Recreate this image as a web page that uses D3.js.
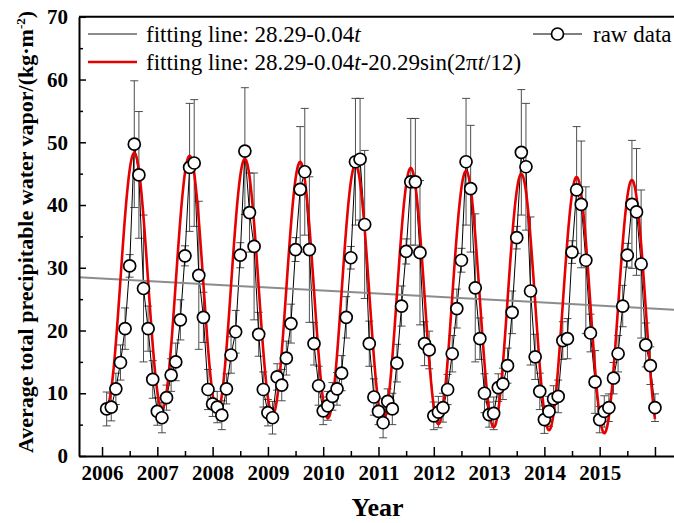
<!DOCTYPE html>
<html>
<head>
<meta charset="utf-8">
<script src="https://cdn.jsdelivr.net/npm/d3@7"></script>
<style>
    body { margin: 0; background: #fff; }
    svg { display: block; }
</style>
</head>
<body>
<svg id="mainSvg" width="674" height="523"></svg>
<script>
// tick labels for the year axis
const years = ["2006", "2007", "2008", "2009", "2010", "2011", "2012", "2013", "2014", "2015"];

// monthly average precipitable water vapor, Jan 2006 .. Dec 2015
const pwv = [
    7.5, 7.8, 10.7, 14.9, 20.3, 30.3, 49.7, 44.8, 26.7, 20.3, 12.2, 7.1,
    6.1, 9.3, 12.9, 15.0, 21.7, 31.9, 46.0, 46.7, 28.8, 22.1, 10.6, 8.3,
    7.8, 6.5, 10.7, 16.1, 19.8, 32.0, 48.6, 38.8, 33.4, 19.4, 10.6, 6.9,
    6.1, 12.6, 11.3, 15.6, 21.1, 32.9, 42.5, 45.3, 32.9, 17.9, 11.2, 7.2,
    8.0, 9.5, 10.7, 13.2, 22.1, 31.6, 46.9, 47.3, 36.9, 17.9, 9.4, 7.1,
    5.3, 8.7, 7.5, 14.8, 23.9, 32.6, 43.7, 43.7, 32.4, 17.9, 16.9, 6.4,
    7.0, 7.7, 10.6, 16.3, 23.5, 31.2, 46.9, 42.6, 26.8, 18.7, 10.0, 6.6,
    6.8, 10.9, 11.5, 14.4, 22.9, 34.8, 48.4, 46.1, 26.3, 15.8, 10.3, 5.8,
    7.1, 9.1, 9.5, 18.4, 18.7, 32.5, 42.4, 40.1, 31.2, 19.6, 11.8, 5.8,
    7.1, 7.7, 12.4, 16.3, 23.9, 32.0, 40.1, 38.9, 30.6, 17.7, 14.4, 7.7
];

// standard deviation (error bars)
const pwvSd = [
    2.7, 2.2, 2.5, 2.8, 3.3, 1.8, 10.1, 10.1, 11.7, 3.6, 3.0, 2.2,
    2.4, 2.0, 2.6, 3.0, 3.2, 1.6, 10.2, 10.1, 11.8, 4.0, 3.2, 2.0,
    2.5, 2.3, 2.4, 2.9, 3.4, 2.0, 10.1, 6.3, 11.7, 3.5, 2.8, 2.1,
    2.6, 2.1, 2.5, 2.7, 3.1, 1.9, 10.0, 10.1, 11.6, 3.4, 3.1, 2.2,
    2.3, 2.2, 2.6, 2.8, 3.3, 1.8, 10.1, 9.7, 11.8, 3.6, 2.9, 2.1,
    2.4, 2.0, 2.5, 3.0, 3.2, 2.0, 10.1, 10.1, 11.5, 3.5, 3.0, 2.2,
    2.5, 2.3, 2.4, 2.9, 3.1, 1.9, 10.1, 10.1, 11.8, 3.3, 3.1, 2.0,
    2.6, 2.2, 2.5, 2.8, 3.4, 1.8, 10.0, 10.1, 11.8, 3.6, 2.9, 2.2,
    2.4, 2.1, 2.6, 3.0, 3.2, 1.8, 10.1, 10.1, 11.7, 3.0, 5.0, 2.1,
    2.5, 2.2, 2.5, 2.9, 3.3, 1.9, 10.2, 10.1, 11.8, 3.5, 3.0, 2.2
];

// fitted models: a + b*t  and  a + b*t - amp*sin(2*pi*(t+shift)/period)
const trendCoef = [28.29, -0.04];
const seasonCoef = [20.29, 12, 2];

let svg = d3.select('#mainSvg');
const fontSerif = "'Liberation Serif', 'Times New Roman', serif";

const x = d3.scaleLinear().domain([-5, 125]).range([79, 678]);
const y = d3.scaleLinear().domain([0, 70]).range([456, 16.8]);

const trend = t => trendCoef[0] + trendCoef[1] * t;
const season = t => trend(t) - seasonCoef[0] * Math.sin(2 * Math.PI * (t + seasonCoef[2]) / seasonCoef[1]);

const points = pwv.map((v, i) => ({t: i + 1, v: v, sd: pwvSd[i]}));

// error bars
const bars = svg.append("g").attr("stroke", "#3a3a3a").attr("stroke-width", 0.9);
bars.selectAll("line.v").data(points).join("line")
    .attr("class", "v")
    .attr("x1", d => x(d.t)).attr("x2", d => x(d.t))
    .attr("y1", d => y(d.v - d.sd)).attr("y2", d => y(d.v + d.sd));
bars.selectAll("line.top").data(points).join("line")
    .attr("class", "top")
    .attr("x1", d => x(d.t) - 4).attr("x2", d => x(d.t) + 4)
    .attr("y1", d => y(d.v + d.sd)).attr("y2", d => y(d.v + d.sd));
bars.selectAll("line.bot").data(points).join("line")
    .attr("class", "bot")
    .attr("x1", d => x(d.t) - 4).attr("x2", d => x(d.t) + 4)
    .attr("y1", d => y(d.v - d.sd)).attr("y2", d => y(d.v - d.sd));

// raw data line
svg.append("path").datum(points)
    .attr("fill", "none").attr("stroke", "black").attr("stroke-width", 1)
    .attr("d", d3.line().x(d => x(d.t)).y(d => y(d.v)));

// linear fitting line
svg.append("path").datum([-5, 125])
    .attr("fill", "none").attr("stroke", "#8c8c8c").attr("stroke-width", 2)
    .attr("d", d3.line().x(t => x(t)).y(t => y(trend(t))));

// seasonal fitting line
svg.append("path").datum(d3.range(1, 120.01, 0.1))
    .attr("fill", "none").attr("stroke", "#e60000").attr("stroke-width", 2.6)
    .attr("d", d3.line().x(t => x(t)).y(t => y(season(t))));

// markers
svg.append("g").selectAll("circle").data(points).join("circle")
    .attr("cx", d => x(d.t)).attr("cy", d => y(d.v))
    .attr("r", 6)
    .attr("fill", "white").attr("stroke", "black").attr("stroke-width", 1.7);

// axes
const styleAxis = g => {
    g.attr("font-family", fontSerif).attr("font-size", 21).attr("font-weight", "bold");
    g.select(".domain").attr("stroke-width", 2);
    g.selectAll(".tick line").attr("stroke-width", 1.5);
    g.selectAll(".tick text").attr("fill", "black");
};

svg.append("g").attr("transform", `translate(0,${y(0)})`)
    .call(d3.axisBottom(x).tickValues(d3.range(0, 121, 12)).tickSizeInner(-9).tickSizeOuter(0)
        .tickPadding(9).tickFormat((d, i) => years[i] || ""))
    .call(styleAxis);
svg.append("g").attr("transform", `translate(0,${y(0)})`)
    .call(d3.axisBottom(x).tickValues(d3.range(6, 121, 12)).tickSizeInner(-5).tickSizeOuter(0).tickFormat(""))
    .call(styleAxis)
    .call(g => g.select(".domain").remove());

svg.append("g").attr("transform", `translate(${x(-5)},0)`)
    .call(d3.axisLeft(y).tickValues(d3.range(0, 71, 10)).tickSizeInner(-7).tickSizeOuter(0).tickPadding(11))
    .call(styleAxis);
svg.append("g").attr("transform", `translate(${x(-5)},0)`)
    .call(d3.axisLeft(y).tickValues(d3.range(5, 70, 10)).tickSizeInner(-4).tickSizeOuter(0).tickFormat(""))
    .call(styleAxis)
    .call(g => g.select(".domain").remove());

// frame
svg.append("path")
    .attr("d", `M${x(-5)},${y(70)}H${x(125)}V${y(0)}`)
    .attr("fill", "none").attr("stroke", "black").attr("stroke-width", 2);

// axis titles
svg.append("text")
    .text("Year")
    .attr("x", (x(-5) + x(125)) / 2 - 1).attr("y", 516)
    .attr("text-anchor", "middle")
    .attr("font-family", fontSerif).attr("font-weight", "bold").attr("font-size", 26);

const yTitle = svg.append("text")
    .attr("transform", "translate(33,232) rotate(-90)")
    .attr("text-anchor", "middle")
    .attr("font-family", fontSerif).attr("font-weight", "bold").attr("font-size", 22);
yTitle.append("tspan").text("Average total precipitable water vapor/(kg\u00b7m");
yTitle.append("tspan").text("-2").attr("font-size", 13).attr("dy", -8);
yTitle.append("tspan").text(")").attr("dy", 8);

// legend
const legend = svg.append("g").attr("font-family", fontSerif).attr("font-size", 23);
legend.append("line").attr("x1", 88).attr("x2", 137).attr("y1", 34).attr("y2", 34)
    .attr("stroke", "#8c8c8c").attr("stroke-width", 2);
const l1 = legend.append("text").attr("x", 146).attr("y", 42);
l1.append("tspan").text("fitting line: 28.29-0.04");
l1.append("tspan").text("t").attr("font-style", "italic");

legend.append("line").attr("x1", 88).attr("x2", 137).attr("y1", 62).attr("y2", 62)
    .attr("stroke", "#e60000").attr("stroke-width", 2.6);
const l2 = legend.append("text").attr("x", 146).attr("y", 70);
l2.append("tspan").text("fitting line: 28.29-0.04");
l2.append("tspan").text("t").attr("font-style", "italic");
l2.append("tspan").text("-20.29sin(2\u03c0");
l2.append("tspan").text("t").attr("font-style", "italic");
l2.append("tspan").text("/12)");

legend.append("line").attr("x1", 533).attr("x2", 582).attr("y1", 34).attr("y2", 34)
    .attr("stroke", "black").attr("stroke-width", 1);
legend.append("circle").attr("cx", 557.5).attr("cy", 34).attr("r", 6)
    .attr("fill", "white").attr("stroke", "black").attr("stroke-width", 1.7);
legend.append("text").attr("x", 593).attr("y", 42).text("raw data");
</script>
</body>
</html>
